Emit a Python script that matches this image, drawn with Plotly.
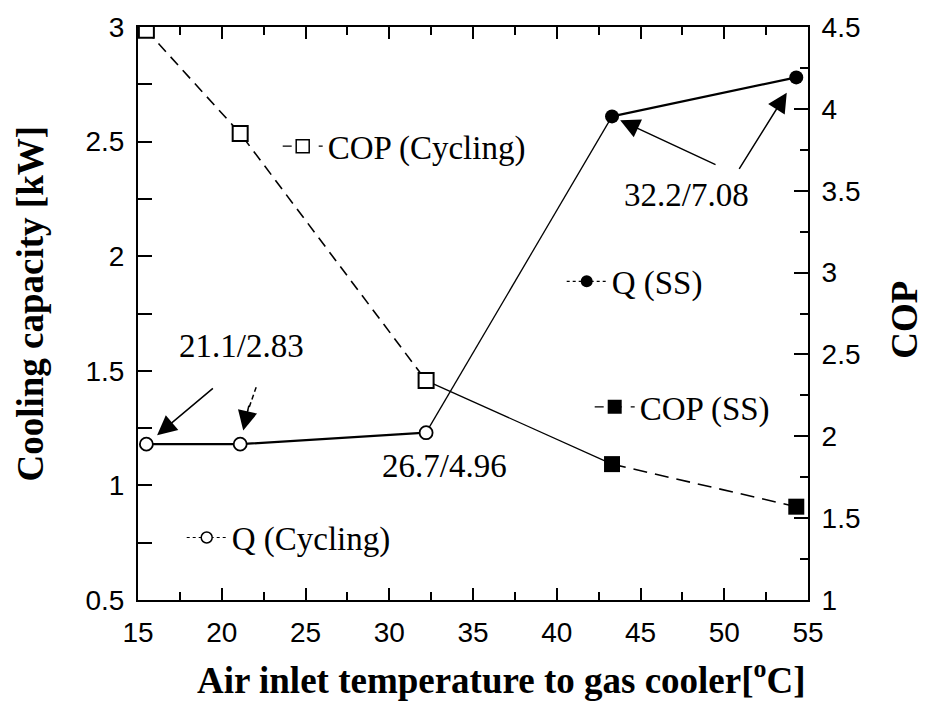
import plotly.graph_objects as go

# Air inlet temperature to the gas cooler [°C]
temp_cycling = [15.5, 21.1, 32.2]
temp_ss = [43.3, 54.3]

# Cooling capacity [kW]
q_cycling = [1.18, 1.18, 1.23]
q_ss = [2.61, 2.78]

# Coefficient of performance
cop_cycling = [4.48, 3.85, 2.34]
cop_ss = [1.83, 1.57]

SERIF = "Liberation Serif"
SANS = "Liberation Sans"
BLACK = "black"

fig = go.Figure()

# --- Cooling capacity (left axis) ---
fig.add_trace(go.Scatter(
    x=[temp_cycling[-1], temp_ss[0]], y=[q_cycling[-1], q_ss[0]],
    mode="lines", line=dict(color=BLACK, width=1.3), showlegend=False, hoverinfo="skip"))
fig.add_trace(go.Scatter(
    x=temp_cycling, y=q_cycling, mode="lines+markers",
    line=dict(color=BLACK, width=2.2),
    marker=dict(symbol="circle", size=13, color="white", line=dict(color=BLACK, width=1.8)),
    showlegend=False))
fig.add_trace(go.Scatter(
    x=temp_ss, y=q_ss, mode="lines+markers",
    line=dict(color=BLACK, width=2.2),
    marker=dict(symbol="circle", size=14, color=BLACK),
    showlegend=False))

# --- COP (right axis) ---
fig.add_trace(go.Scatter(
    x=[temp_cycling[-1], temp_ss[0]], y=[cop_cycling[-1], cop_ss[0]], yaxis="y2",
    mode="lines", line=dict(color=BLACK, width=1.3), showlegend=False, hoverinfo="skip"))
fig.add_trace(go.Scatter(
    x=temp_cycling, y=cop_cycling, yaxis="y2", mode="lines+markers",
    line=dict(color=BLACK, width=1.6, dash="11px,7px"),
    marker=dict(symbol="square", size=15, color="white", line=dict(color=BLACK, width=2)),
    showlegend=False))
fig.add_trace(go.Scatter(
    x=temp_ss, y=cop_ss, yaxis="y2", mode="lines+markers",
    line=dict(color=BLACK, width=1.6, dash="14px,8px"),
    marker=dict(symbol="square", size=16, color=BLACK),
    showlegend=False))

# --- Legend keys, each in its own floating legend ---
legend_items = [
    ("Q (Cycling)", "legend", dict(symbol="circle", size=11, color="white", line=dict(color=BLACK, width=1.5)), "dot"),
    ("COP (Cycling)", "legend2", dict(symbol="square", size=13, color="white", line=dict(color=BLACK, width=1.5)), "dash"),
    ("Q (SS)", "legend3", dict(symbol="circle", size=12, color=BLACK), "dot"),
    ("COP (SS)", "legend4", dict(symbol="square", size=14, color=BLACK), "dash"),
]
for name, leg, mk, dash in legend_items:
    fig.add_trace(go.Scatter(
        x=[None], y=[None], mode="lines+markers", name=name, legend=leg,
        line=dict(color=BLACK, width=1.2, dash=dash), marker=mk))

leg_font = dict(family=SERIF, size=33, color=BLACK)
def legend_at(x, y):
    return dict(x=x, y=y, xanchor="left", yanchor="middle", bgcolor="rgba(0,0,0,0)",
                borderwidth=0, font=leg_font, itemwidth=40, tracegroupgap=0)

# --- Value annotations with arrows ---
arrow_style = dict(showarrow=True, arrowhead=2, arrowsize=2.6, arrowwidth=1.5,
                   arrowcolor=BLACK, text="", xref="x", yref="y")
annotations = [
    dict(x=temp_cycling[0], y=q_cycling[0], ax=68, ay=-57, standoff=14, **arrow_style),
    dict(x=temp_cycling[1], y=q_cycling[1], ax=9, ay=-40, standoff=14, **arrow_style),
    dict(x=temp_ss[0], y=q_ss[0], ax=105, ay=49, standoff=9, **arrow_style),
    dict(x=temp_ss[1], y=q_ss[1], ax=-58, ay=93, standoff=18, **arrow_style),
]
label_font = dict(family=SERIF, size=33, color=BLACK)
for text, px, py in [("21.1/2.83", 0.155, 0.443), ("26.7/4.96", 0.458, 0.234), ("32.2/7.08", 0.819, 0.707)]:
    annotations.append(dict(text=text, x=px, y=py, xref="paper", yref="paper",
                            showarrow=False, font=label_font, xanchor="center", yanchor="middle"))

title_font = dict(family=SERIF, size=37, color=BLACK, weight="bold")
annotations += [
    dict(text="Air inlet temperature to gas cooler[<sup>o</sup>C]", x=0.543, y=-0.136,
         xref="paper", yref="paper", showarrow=False, font=title_font,
         xanchor="center", yanchor="middle"),
    dict(text="Cooling capacity [kW]", x=-0.16, y=0.517, xref="paper", yref="paper",
         showarrow=False, font=title_font, textangle=-90, xanchor="center", yanchor="middle"),
    dict(text="COP", x=1.144, y=0.49, xref="paper", yref="paper",
         showarrow=False, font=title_font, textangle=-90, xanchor="center", yanchor="middle"),
]

# dashed shaft of the second arrow, anchored to its target point
shapes = [dict(type="line", xref="x", yref="y", xsizemode="pixel", ysizemode="pixel",
               xanchor=temp_cycling[1], yanchor=q_cycling[1], x0=16, y0=57, x1=8, y1=34,
               line=dict(color=BLACK, width=1.5, dash="5px,3px"))]

tick_font = dict(family=SANS, size=28, color=BLACK)
axis_common = dict(showline=True, linecolor=BLACK, linewidth=2, ticks="inside",
                   tickcolor=BLACK, tickwidth=2, tickfont=tick_font, showgrid=False,
                   zeroline=False)

fig.update_layout(
    width=932, height=706,
    margin=dict(l=138, r=124, t=24, b=106),
    plot_bgcolor="white", paper_bgcolor="white",
    xaxis=dict(range=[15, 55], dtick=5, tick0=15, ticklen=12, mirror="ticks",
               ticklabelstandoff=6,
               minor=dict(dtick=2.5, ticklen=8, ticks="inside", tickcolor=BLACK, tickwidth=2),
               **axis_common),
    yaxis=dict(range=[0.5, 3], dtick=0.5, tick0=0.5, ticklen=14, ticklabelstandoff=6,
               minor=dict(dtick=0.25, ticklen=14, ticks="inside", tickcolor=BLACK, tickwidth=2),
               **axis_common),
    yaxis2=dict(range=[1, 4.5], dtick=0.5, tick0=1, ticklen=14, overlaying="y", side="right",
                ticklabelstandoff=6,
                minor=dict(dtick=0.25, ticklen=8, ticks="inside", tickcolor=BLACK, tickwidth=2),
                **axis_common),
    legend=legend_at((232 - 50 - 138.3) / 670, 0.109),
    legend2=legend_at((328 - 50 - 138.3) / 670, 0.792),
    legend3=legend_at((612 - 50 - 138.3) / 670, 0.556),
    legend4=legend_at((640 - 50 - 138.3) / 670, 0.337),
    annotations=annotations,
    shapes=shapes,
)

fig.write_html("out.html")
